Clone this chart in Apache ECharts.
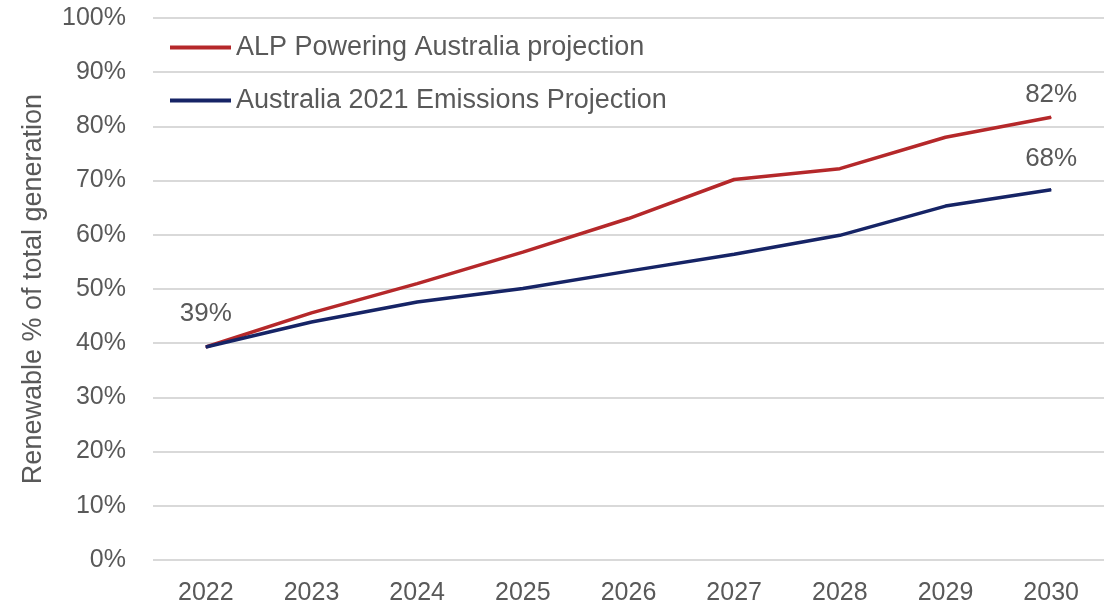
<!DOCTYPE html>
<html>
<head>
<meta charset="utf-8">
<script src="https://cdn.jsdelivr.net/npm/echarts@6/dist/echarts.min.js"></script>
<style>
    html, body { margin: 0; padding: 0; background: #fff; }
    #chart { width: 1106px; height: 611px; }
</style>
</head>
<body>
<div id="chart"></div>
<script>
// data
var years = ["2022", "2023", "2024", "2025", "2026", "2027", "2028", "2029", "2030"];
var alpValues = [39.3, 45.6, 51.0, 56.8, 63.0, 70.2, 72.2, 78.0, 81.7];
var emissionsValues = [39.3, 43.9, 47.6, 50.1, 53.3, 56.4, 59.9, 65.3, 68.3];
var alpLabels = ["39%", "", "", "", "", "", "", "", "82%"];
var emissionsLabels = ["", "", "", "", "", "", "", "", "68%"];
var seriesNames = ["ALP Powering Australia projection", "Australia 2021 Emissions Projection"];

var textColor = "#595959";
var fontFamily = "'Liberation Sans', Arial, sans-serif";
var fontSize = 25;

function withLabels(values, labels, distances) {
    return values.map(function (v, i) {
        if (!labels[i]) return v;
        return {
            value: v,
            label: {
                show: true,
                position: "top",
                distance: distances[i],
                formatter: labels[i],
                color: textColor,
                fontSize: 26,
                fontFamily: fontFamily
            }
        };
    });
}

var chart = echarts.init(document.getElementById("chart"));
chart.setOption({
    animation: false,
    grid: {
        left: 153,
        right: 2,
        top: 18,
        bottom: 51
    },
    legend: {
        orient: "vertical",
        left: 165,
        top: 29,
        itemGap: 26,
        itemWidth: 61,
        itemHeight: 4,
        icon: "rect",
        data: seriesNames,
        textStyle: {
            color: textColor,
            fontSize: 27,
            lineHeight: 27,
            fontFamily: fontFamily
        }
    },
    xAxis: {
        type: "category",
        data: years,
        boundaryGap: true,
        axisLine: { show: false },
        axisTick: { show: false },
        axisLabel: {
            color: textColor,
            fontSize: fontSize,
            margin: 21,
            fontFamily: fontFamily
        }
    },
    yAxis: {
        type: "value",
        min: 0,
        max: 100,
        interval: 10,
        name: "Renewable % of total generation",
        nameLocation: "middle",
        nameGap: 106,
        nameTextStyle: {
            color: textColor,
            fontSize: 27,
            fontFamily: fontFamily
        },
        axisLabel: {
            formatter: "{value}%",
            color: textColor,
            fontSize: fontSize,
            margin: 27,
            fontFamily: fontFamily
        },
        axisLine: { show: false },
        axisTick: { show: false },
        splitLine: {
            lineStyle: { color: "#d9d9d9", width: 2 }
        }
    },
    series: [
        {
            name: seriesNames[0],
            type: "line",
            data: withLabels(alpValues, alpLabels, [20, 0, 0, 0, 0, 0, 0, 0, 9]),
            symbol: "circle",
            symbolSize: 1,
            showSymbol: true,
            itemStyle: { color: "#b5282a" },
            lineStyle: { color: "#b5282a", width: 3.5 },
            z: 3
        },
        {
            name: seriesNames[1],
            type: "line",
            data: withLabels(emissionsValues, emissionsLabels, [0, 0, 0, 0, 0, 0, 0, 0, 17]),
            symbol: "circle",
            symbolSize: 1,
            showSymbol: true,
            itemStyle: { color: "#162466" },
            lineStyle: { color: "#162466", width: 3.5 },
            z: 4
        }
    ]
});
</script>
</body>
</html>
